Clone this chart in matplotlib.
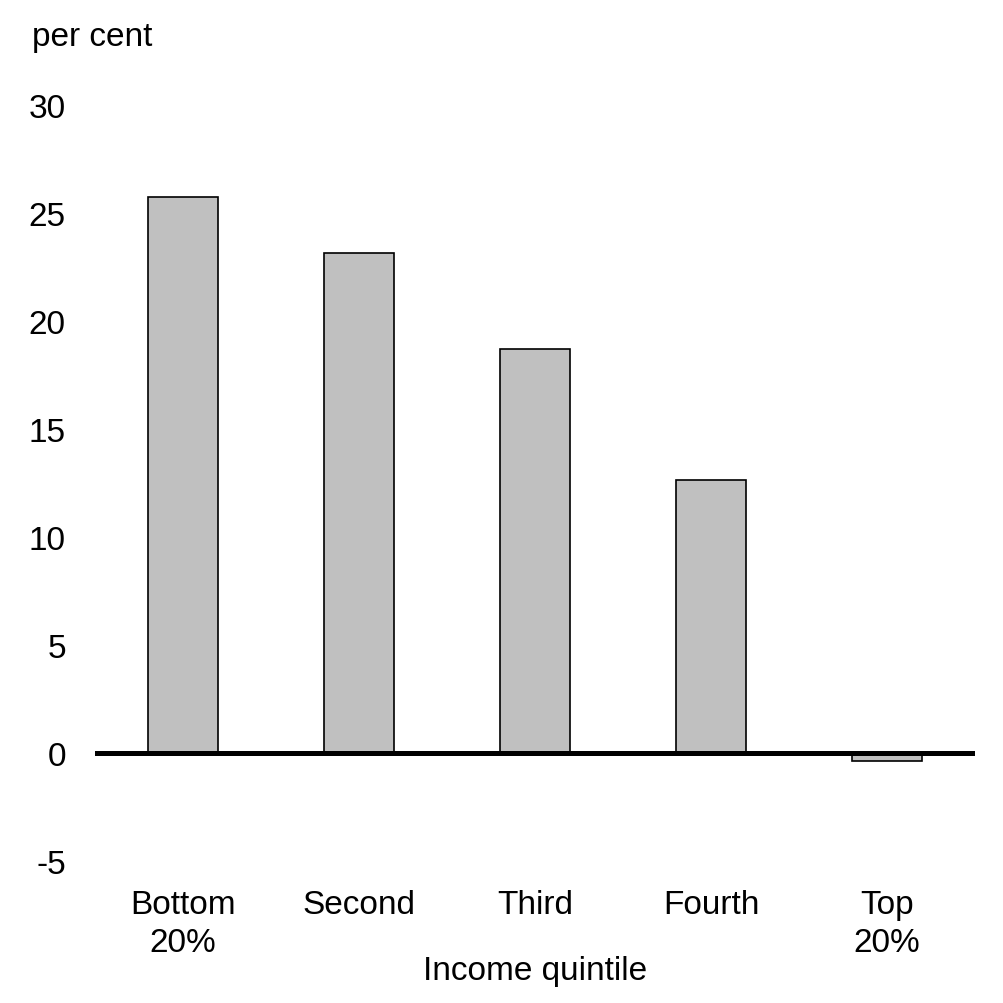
import matplotlib.pyplot as plt
import numpy as np

plt.rcParams['font.family'] = ['Liberation Sans', 'DejaVu Sans']

categories = ["Bottom\n20%", "Second", "Third", "Fourth", "Top\n20%"]
values = [25.75, 23.15, 18.7, 12.65, -0.35]
yticks = [-5, 0, 5, 10, 15, 20, 25, 30]

fig = plt.figure(figsize=(10.04, 10.04), dpi=100)
ax = fig.add_axes([95 / 1004, 1 - 862 / 1004, 880 / 1004, 756 / 1004])

x = np.arange(len(categories))
ax.bar(x, values, width=0.40, color='#c0c0c0', edgecolor='black', linewidth=1.2, zorder=2)
ax.axhline(0, color='black', linewidth=3.6, zorder=3)

ax.set_xlim(-0.5, 4.5)
ax.set_ylim(-5, 30)
ax.set_yticks(yticks)
ax.set_yticklabels([str(t) for t in yticks], fontsize=24)
ax.set_xticks(x)
ax.set_xticklabels(categories, fontsize=24, linespacing=1.3)
ax.tick_params(axis='both', length=0)
ax.tick_params(axis='y', pad=21)
ax.tick_params(axis='x', pad=20)
for s in ax.spines.values():
    s.set_visible(False)

ax.set_xlabel("Income quintile", fontsize=24, labelpad=-2)
fig.text(32 / 1004, 1 - 46 / 1004, "per cent", fontsize=24, ha='left', va='baseline')

fig.savefig("out.png", dpi=100)
